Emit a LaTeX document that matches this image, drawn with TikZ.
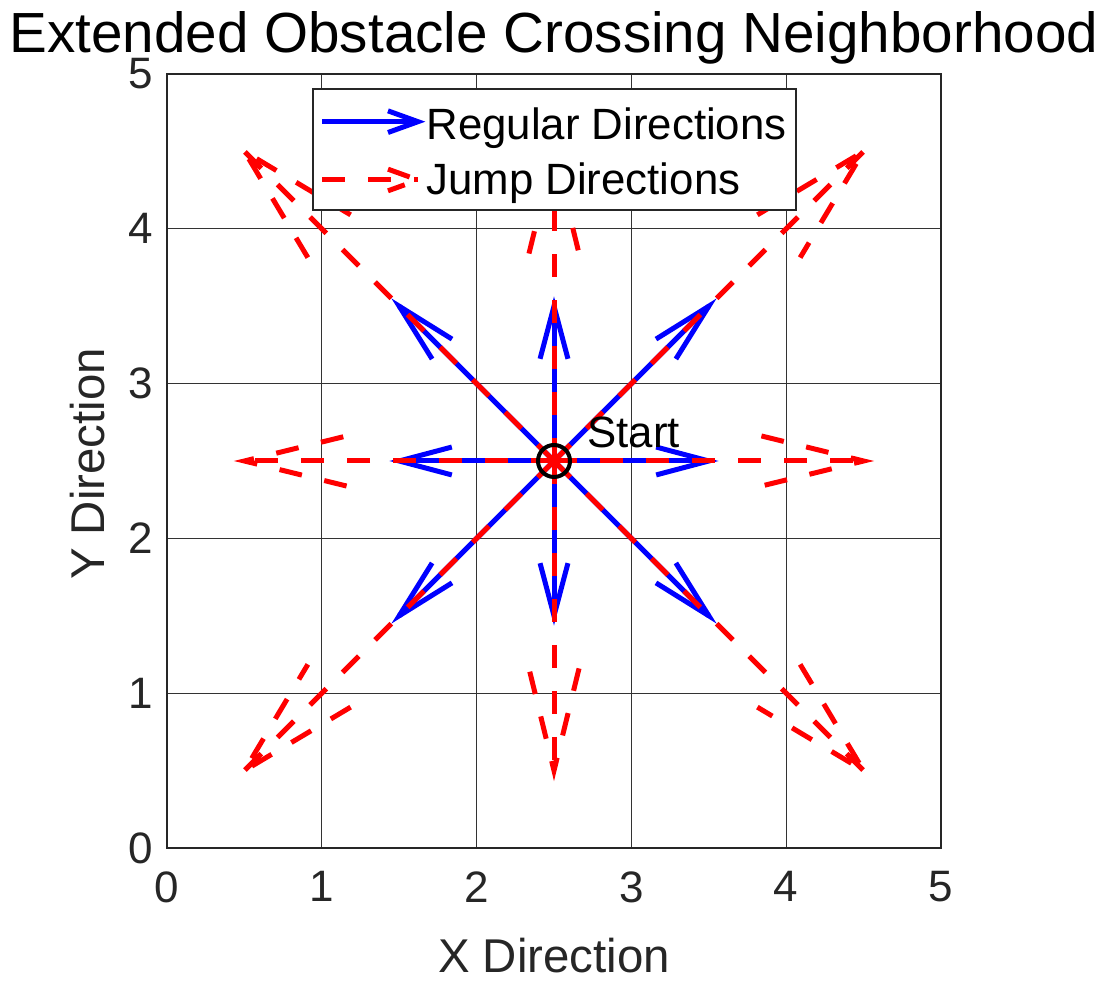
\documentclass[tikz,border=0pt]{standalone}
\usepackage{fontspec}
\setmainfont{Liberation Sans}
\begin{document}
\begin{tikzpicture}[x=77.4pt,y=77.4pt,
  gridline/.style={draw=black!80, line width=0.65pt},
  axisbox/.style={draw=black!85, line width=0.9pt},
  regular/.style={draw=blue, line width=2.5pt, line join=miter},
  jump/.style={draw=red, line width=2.5pt, dash pattern=on 11.5pt off 11.5pt},
  ticklab/.style={font=\fontsize{22}{26}\selectfont, text=black!85, inner sep=0pt},
  axlab/.style={font=\fontsize{23.7}{28}\selectfont, text=black!85, inner sep=0pt},
  legtext/.style={font=\fontsize{21.9}{26}\selectfont, text=black, inner sep=0pt, anchor=base west},
  titletext/.style={font=\fontsize{28.3}{33}\selectfont, text=black, inner sep=0pt, anchor=base}]
\useasboundingbox (-1.0788,-0.8656) rectangle (6.0401,5.478);
\fill[white] (-1.0788,-0.8656) rectangle (6.0401,5.478);
% grid
\foreach \i in {1,...,4} {
  \draw[gridline] (\i,0) -- (\i,5);
  \draw[gridline] (0,\i) -- (5,\i);
}
\draw[axisbox] (0,0) rectangle (5,5);
% tick labels
\foreach \i in {0,...,5} {
  \node[ticklab, anchor=north] (xt\i) at (\i,-0.1486) {\i};
  \node[ticklab, anchor=east] (yt\i) at (-0.0904,\i) {\i};
}
\node[axlab, anchor=north] (xlab) at (2.5,-0.5814) {X Direction};
\node[axlab, rotate=90] (ylab) at (-0.5103,2.4806) {Y Direction};
\node[titletext] (title) at (2.5,5.1357) {Extended Obstacle Crossing Neighborhood};
% centre
\coordinate (c) at (2.5,2.5);
% regular directions (blue): u/v/alpha/beta
\foreach \u/\v/\al/\be [count=\k] in {1/0/0.34/0.265, 1/1/0.277/0.232, 0/1/0.34/0.265, -1/1/0.277/0.232,
    -1/0/0.34/0.265, -1/-1/0.277/0.232, 0/-1/0.34/0.265, 1/-1/0.277/0.232} {
  \pgfmathsetmacro\tx{2.5+\u}
  \pgfmathsetmacro\ty{2.5+\v}
  \pgfmathsetmacro\ax{\tx-\al*(\u+\be*\v)}
  \pgfmathsetmacro\ay{\ty-\al*(\v-\be*\u)}
  \pgfmathsetmacro\bx{\tx-\al*(\u-\be*\v)}
  \pgfmathsetmacro\by{\ty-\al*(\v+\be*\u)}
  \coordinate (rt\k) at (\tx,\ty);
  \coordinate (ra\k) at (\ax,\ay);
  \coordinate (rb\k) at (\bx,\by);
  \draw[regular] (c) -- (rt\k);
  \draw[regular] (ra\k) -- (rt\k) -- (rb\k);
}
% jump directions (red dashed): shafts
\foreach \u/\v [count=\k] in {2/0,2/2,0/2,-2/2,-2/0,-2/-2,0/-2,2/-2} {
  \pgfmathsetmacro\tx{2.5+\u}
  \pgfmathsetmacro\ty{2.5+\v}
  \coordinate (jt\k) at (\tx,\ty);
  \draw[jump] (c) -- (jt\k);
}
% jump heads
\foreach \u/\v/\al/\be [count=\k] in {2/0/0.33/0.245, 2/2/0.274/0.252, 0/2/0.33/0.245, -2/2/0.274/0.252,
    -2/0/0.33/0.245, -2/-2/0.274/0.252, 0/-2/0.33/0.245, 2/-2/0.274/0.252} {
  \pgfmathsetmacro\tx{2.5+\u}
  \pgfmathsetmacro\ty{2.5+\v}
  \pgfmathsetmacro\ax{\tx-\al*(\u+\be*\v)}
  \pgfmathsetmacro\ay{\ty-\al*(\v-\be*\u)}
  \pgfmathsetmacro\bx{\tx-\al*(\u-\be*\v)}
  \pgfmathsetmacro\by{\ty-\al*(\v+\be*\u)}
  \coordinate (ja\k) at (\ax,\ay);
  \coordinate (jb\k) at (\bx,\by);
  \draw[jump] (ja\k) -- (jt\k) -- (jb\k);
}
% start marker
\node[draw=black, circle, line width=2pt, minimum size=16pt, inner sep=0pt] (start) at (c) {};
\node[legtext] (starttext) at (2.7132,2.584) {Start};
% legend
\draw[draw=black!85, fill=white, line width=0.6pt] (0.9432,4.1214) rectangle (4.0633,4.9031);
\coordinate (l1s) at (1.0013,4.6919);
\coordinate (l1t) at (1.6214,4.6919);
\coordinate (l1a) at (1.4276,4.7619);
\coordinate (l1b) at (1.4276,4.6219);
\draw[regular] (l1s) -- (l1t);
\draw[regular] (l1a) -- (l1t) -- (l1b);
\coordinate (l2s) at (1.0013,4.3152);
\coordinate (l2t) at (1.6214,4.3152);
\coordinate (l2a) at (1.4276,4.3852);
\coordinate (l2b) at (1.4276,4.2452);
\draw[jump] (l2s) -- (l2t);
\draw[jump] (l2a) -- (l2t) -- (l2b);
\node[legtext] (leg1) at (1.6731,4.5736) {Regular Directions};
\node[legtext] (leg2) at (1.6731,4.2183) {Jump Directions};
\end{tikzpicture}
\end{document}
